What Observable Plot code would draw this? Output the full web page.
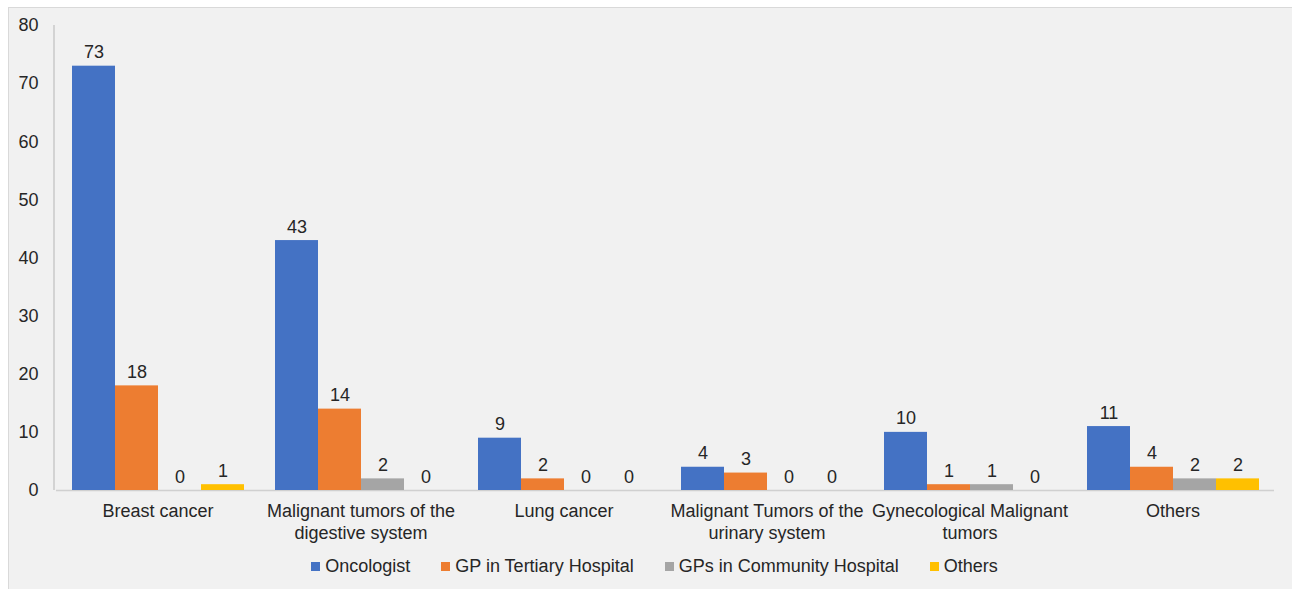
<!DOCTYPE html>
<html>
<head>
<meta charset="utf-8">
<script src="https://cdn.jsdelivr.net/npm/d3@7"></script>
<script src="https://cdn.jsdelivr.net/npm/@observablehq/plot@0.6"></script>
<style>
  html, body { margin: 0; padding: 0; background: #ffffff; }
  #frame {
    position: absolute; left: 8px; top: 7px; width: 1284px; height: 582px;
    background: #f1f1f1; border-top: 1px solid #d9d9d9; border-left: 1px solid #d9d9d9;
    box-sizing: border-box; font-family: "Liberation Sans", Arial, sans-serif; color: #262626;
  }
  #chart svg { display: block; }
  #legend {
    display: flex; justify-content: center; gap: 31px; margin-top: 8px; line-height: 20px;
    font-size: 18px; padding-left: 8px;
  }
  #legend .item { display: flex; align-items: center; }
  #legend .sw { width: 9px; height: 9px; margin-right: 5px; display: inline-block; }
</style>
</head>
<body>
<div id="frame">
  <div id="chart"></div>
  <div id="legend"></div>
</div>
<script>
const categories = ["Breast cancer", "Malignant tumors of the digestive system", "Lung cancer", "Malignant Tumors of the urinary system", "Gynecological Malignant tumors", "Others"];
const categoryLabels = ["Breast cancer", "Malignant tumors of the\ndigestive system", "Lung cancer", "Malignant Tumors of the\nurinary system", "Gynecological Malignant\ntumors", "Others"];
const series = ["Oncologist", "GP in Tertiary Hospital", "GPs in Community Hospital", "Others"];
const oncologist = [73, 43, 9, 4, 10, 11];
const gpTertiary = [18, 14, 2, 3, 1, 4];
const gpCommunity = [0, 2, 0, 0, 1, 2];
const othersSeries = [1, 0, 0, 0, 0, 2];
const colors = ["#4472c4", "#ed7d31", "#a5a5a5", "#ffc000"];
const yTicks = [0, 10, 20, 30, 40, 50, 60, 70, 80];

const seriesValues = [oncologist, gpTertiary, gpCommunity, othersSeries];
const data = [];
categories.forEach((c, i) => {
  series.forEach((s, j) => {
    data.push({category: c, series: s, value: seriesValues[j][i]});
  });
});
const labelOf = new Map(categories.map((c, i) => [c, categoryLabels[i]]));

const chart = Plot.plot({
  width: 1283,
  height: 540,
  marginLeft: 45,
  marginRight: 17,
  marginTop: 17,
  marginBottom: 58,
  style: {background: "transparent", fontFamily: "Liberation Sans, Arial, sans-serif", fontSize: "18px", color: "#262626", overflow: "visible"},
  fx: {domain: categories, padding: 0, label: null},
  x: {domain: series, paddingInner: 0, paddingOuter: 0.34, axis: null},
  y: {domain: [0, 80], label: null},
  color: {domain: series, range: colors},
  marks: [
    Plot.ruleY([0], {stroke: "#d0d0d0", strokeWidth: 1.5}),
    Plot.barY(data, {fx: "category", x: "series", y: "value", fill: "series"}),
    Plot.text(data, {fx: "category", x: "series", y: "value", text: d => String(d.value), lineAnchor: "bottom", dy: -8, fontSize: 18, fill: "#262626"}),
    Plot.axisY({ticks: yTicks, tickSize: 0, tickPadding: 18, fontSize: 18, label: null, fill: "#262626"}),
    Plot.axisFx({anchor: "bottom", tickSize: 0, tickPadding: 11, fontSize: 18, label: null, lineHeight: 1.22, fill: "#262626", tickFormat: d => labelOf.get(d)})
  ]
});
document.getElementById("chart").appendChild(chart);

// vertical y-axis line, placed from the plot's own scales
const ys = chart.scale("y");
const fxs = chart.scale("fx");
d3.select(chart).append("line")
  .attr("x1", fxs.range[0]).attr("x2", fxs.range[0])
  .attr("y1", ys.range[1]).attr("y2", ys.range[0])
  .attr("stroke", "#c8c8c8").attr("stroke-width", 1.5);

const legend = document.getElementById("legend");
series.forEach((s, j) => {
  const item = document.createElement("span");
  item.className = "item";
  const sw = document.createElement("span");
  sw.className = "sw";
  sw.style.background = colors[j];
  item.appendChild(sw);
  item.appendChild(document.createTextNode(s));
  legend.appendChild(item);
});
</script>
</body>
</html>
